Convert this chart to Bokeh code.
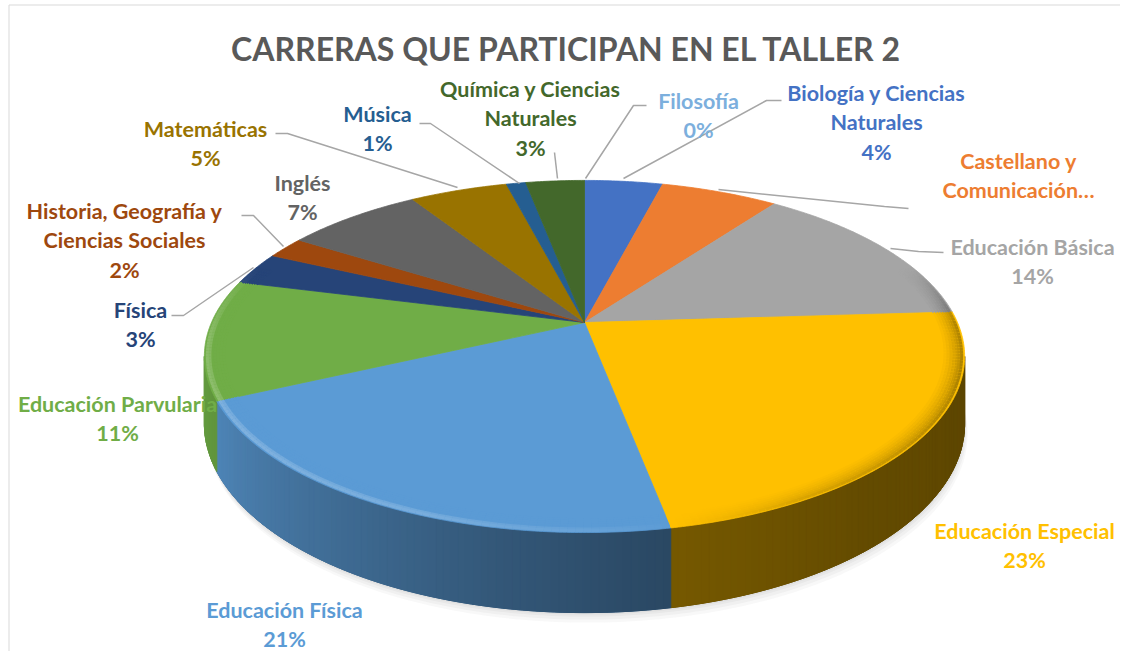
import numpy as np
from bokeh.plotting import figure
from bokeh.models import Range1d, ColumnDataSource
from bokeh.embed import file_html
from bokeh.resources import INLINE
from bokeh.core.properties import value

# ---------------- data ----------------
categories = ["Filosofía", "Biología y Ciencias Naturales", "Castellano y Comunicación",
              "Educación Básica", "Educación Especial", "Educación Física",
              "Educación Parvularia", "Física", "Historia, Geografía y Ciencias Sociales",
              "Inglés", "Matemáticas", "Música", "Química y Ciencias Naturales"]
percent = [0, 4, 6, 14, 23, 21, 11, 3, 2, 7, 5, 1, 3]
colors = ["#7CAFDD", "#4472C4", "#ED7D31", "#A5A5A5", "#FFC000", "#5B9BD5",
          "#70AD47", "#264478", "#9E480E", "#636363", "#997300", "#255E91", "#43682B"]
label_lines = [["Filosofía"], ["Biología y Ciencias", "Naturales"], ["Castellano y", "Comunicación…"],
               ["Educación Básica"], ["Educación Especial"], ["Educación Física"],
               ["Educación Parvularia"], ["Física"], ["Historia, Geografía y", "Ciencias Sociales"],
               ["Inglés"], ["Matemáticas"], ["Música"], ["Química y Ciencias", "Naturales"]]
show_pct = [True, True, False, True, True, True, True, True, True, True, True, True, True]
title = "CARRERAS QUE PARTICIPAN EN EL TALLER 2"

# ---------------- layout (pixel coordinates of the page) ----------------
label_pos = [(698, 100), (876, 92), (1018, 160), (1032, 246), (1024, 530), (284, 609),
             (117, 403), (140, 309), (124, 210), (302, 182), (205, 128), (377, 113), (530, 88)]
LINE_H = 29.5
leaders = {
    0: [(585, 178), (633, 105), (646, 105)],
    1: [(623, 178), (766, 100), (781, 100)],
    2: [(718, 189), (884, 206), (908, 208)],
    3: [(890, 248), (918, 251), (943, 252)],
    8: [(283, 246), (253, 215), (241, 215)],
    7: [(253, 267), (183, 315), (171, 315)],
    10: [(457, 187), (287, 133), (275, 133)],
    11: [(519, 183), (430, 123), (419, 123)],
    12: [(557, 178), (554, 152)],
}

CX, CY = 584, 322
A, B, K, DEPTH = 373.0, 169.5, 0.193, 64.6

FW, FH = 1120, 651
p = figure(width=FW, height=FH, output_backend="svg", toolbar_location=None,
           x_range=Range1d(0, FW), y_range=Range1d(FH, 0),
           min_border=0, outline_line_color=None, background_fill_color="white")
p.axis.visible = False
p.grid.visible = False

# thin chart border (left and top) as in the reference
p.multi_line([[8.5, 8.5], [8.5, FW]], [[FH, 4.5], [4.5, 4.5]], line_color="#D9D9D9", line_width=1)


def rim(theta_deg, drop=0.0, r=1.0):
    t = np.radians(theta_deg)
    u, v = r * np.sin(t), r * np.cos(t)
    d = 1 + K * v
    return CX + A * u / d, CY + (-B * v + drop) / d


def hex2rgb(c):
    c = c.lstrip("#")
    return np.array([int(c[i:i + 2], 16) for i in (0, 2, 4)], dtype=float)


def rgb2hex(r):
    r = np.clip(np.round(r), 0, 255).astype(int)
    return "#%02x%02x%02x" % tuple(r)


def shade(c, f):
    return rgb2hex(hex2rgb(c) * f)


def tint(c, g):
    rgb = hex2rgb(c)
    if g >= 0:
        return rgb2hex(rgb + (255 - rgb) * g)
    return rgb2hex(rgb * (1 + g))


total = float(sum(percent))
cum = np.concatenate([[0], np.cumsum(percent)]) / total * 360.0

# ---------------- shadow ----------------
ts_all = np.linspace(0, 360, 361)
for off, al in [(10, 0.05), (7, 0.06), (4, 0.07), (2, 0.08)]:
    bx, by = rim(ts_all, DEPTH)
    p.patch(bx + off * 0.3, by + off, fill_color="#7f7f7f", fill_alpha=al, line_color=None)

# ---------------- walls ----------------
vis0 = 90 + np.degrees(np.arcsin(K))
vis1 = 270 - np.degrees(np.arcsin(K))
wall_ang = [vis0, 140, 169, 190, 215, 245, vis1]
wall_fac = [0.36, 0.39, 0.46, 0.56, 0.70, 0.86, 0.90]
bxs, bys, bcs = [], [], []
wxs, wys, wcs = [], [], []
for i in range(len(percent)):
    lo, hi = max(cum[i], vis0), min(cum[i + 1], vis1)
    if hi <= lo:
        continue
    ts = np.linspace(lo, hi, max(2, int((hi - lo) * 2) + 1))
    tx0, ty0 = rim(ts)
    tx1, ty1 = rim(ts[::-1], DEPTH)
    bxs.append(list(tx0) + list(tx1))
    bys.append(list(ty0) + list(ty1))
    bcs.append(shade(colors[i], np.interp(0.5 * (lo + hi), wall_ang, wall_fac)))
    n = max(1, int(np.ceil(hi - lo)))
    edges = np.linspace(lo, hi, n + 1)
    for t0, t1 in zip(edges[:-1], edges[1:]):
        x0, y0 = rim(t0)
        x1, y1 = rim(t1)
        x2, y2 = rim(t1, DEPTH)
        x3, y3 = rim(t0, DEPTH)
        wxs.append([x0, x1, x2, x3])
        wys.append([y0, y1, y2, y3])
        wcs.append(shade(colors[i], np.interp(0.5 * (t0 + t1), wall_ang, wall_fac)))
p.patches(bxs, bys, fill_color=bcs, line_color=bcs, line_width=1)
p.patches(wxs, wys, fill_color=wcs, line_color=wcs, line_width=1)

# ---------------- top faces ----------------
txs, tys, tcs = [], [], []
for i in range(len(percent)):
    if percent[i] <= 0:
        continue
    ts = np.linspace(cum[i], cum[i + 1], max(2, int((cum[i + 1] - cum[i]) * 2) + 1))
    rx, ry = rim(ts)
    txs.append([CX] + list(rx))
    tys.append([CY] + list(ry))
    tcs.append(colors[i])
p.patches(txs, tys, fill_color=tcs, line_color=tcs, line_width=0.8)

# ---------------- bevel along the front rim (smooth gradient) ----------------
bev_ang = [70, 90, 110, 150, 175, 200, 235, 265, 290]
bev_val = [0.0, -0.30, -0.32, -0.15, 0.05, 0.18, 0.22, 0.18, 0.0]
layers = [(10, 0.08, True), (8.5, 0.18, True), (7, 0.3, True), (5.5, 0.45, True),
          (4, 0.6, True), (2.8, 0.75, False), (1.5, 1.0, False)]
for inset, strength, dark_only in layers:
    sx, sy, sc = [], [], []
    for i in range(len(percent)):
        lo, hi = max(cum[i], 70), min(cum[i + 1], 290)
        if hi - lo < 0.5:
            continue
        n = max(1, int(np.ceil(hi - lo)))
        edges = np.linspace(lo, hi, n + 1)
        for t0, t1 in zip(edges[:-1], edges[1:]):
            g = np.interp(0.5 * (t0 + t1), bev_ang, bev_val)
            if dark_only:
                g = min(g, 0.0)
            x0, y0 = rim(t0, 0, 1 - inset / 200.0)
            x1, y1 = rim(t1, 0, 1 - inset / 200.0)
            sx.append([x0, x1])
            sy.append([y0, y1])
            sc.append(tint(colors[i], strength * g))
    p.multi_line(sx, sy, line_color=sc, line_width=3, line_cap="butt")

# ---------------- leader lines ----------------
lx = [[pt[0] for pt in pts] for pts in leaders.values()]
ly = [[pt[1] for pt in pts] for pts in leaders.values()]
p.multi_line(lx, ly, line_color="#A6A6A6", line_width=1.5)

# ---------------- labels ----------------
tx, ty, tt, tc = [], [], [], []
for i, lines in enumerate(label_lines):
    full = list(lines) + ([f"{percent[i]}%"] if show_pct[i] else [])
    cx, y0 = label_pos[i]
    for j, s in enumerate(full):
        tx.append(cx)
        ty.append(y0 + j * LINE_H)
        tt.append(s)
        tc.append(colors[i])
src = ColumnDataSource(dict(x=tx, y=ty, text=tt, color=tc))
p.text(x="x", y="y", text="text", source=src, text_color="color",
       text_font=value("Lato"), text_font_style="bold", text_font_size="21.5px",
       text_align="center", text_baseline="middle")

p.text(x=[566], y=[48], text=[title], text_color="#595959",
       text_font=value("Lato"), text_font_style="bold", text_font_size="32px",
       text_align="center", text_baseline="middle")

open("out.html", "w").write(file_html(p, INLINE))
